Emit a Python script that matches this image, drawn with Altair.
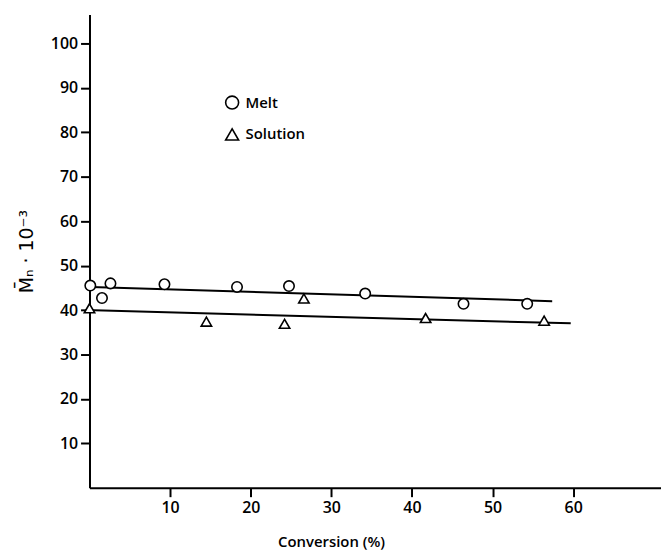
import altair as alt
import pandas as pd

# Data
melt_x = [0.1, 1.55, 2.6, 9.3, 18.3, 24.75, 34.2, 46.4, 54.3]
melt_y = [45.5, 42.7, 46.0, 45.8, 45.2, 45.4, 43.7, 41.4, 41.4]
sol_x = [0.0, 14.5, 24.2, 26.6, 41.7, 56.4]
sol_y = [40.4, 37.4, 36.9, 42.6, 38.2, 37.6]
melt_fit_x = [0.2, 57.4]
melt_fit_y = [45.2, 42.0]
sol_fit_x = [-0.5, 59.7]
sol_fit_y = [40.0, 37.0]
series = ["Melt", "Solution"]
x_ticks = [10, 20, 30, 40, 50, 60]
y_ticks = [10, 20, 30, 40, 50, 60, 70, 80, 90, 100]

pts = pd.DataFrame({
    "x": melt_x + sol_x,
    "y": melt_y + sol_y,
    "s": [series[0]] * len(melt_x) + [series[1]] * len(sol_x),
})
fits = pd.DataFrame({
    "x": melt_fit_x + sol_fit_x,
    "y": melt_fit_y + sol_fit_y,
    "s": [series[0]] * 2 + [series[1]] * 2,
})

FONT = "Open Sans"
WEIGHT = 600

xenc = alt.X("x:Q",
             scale=alt.Scale(domain=[0, 70.9], nice=False, zero=False),
             axis=alt.Axis(values=x_ticks, title="Conversion (%)", grid=False,
                           domainColor="black", domainWidth=2, tickColor="black",
                           tickWidth=2, tickSize=9, labelFontSize=16, labelPadding=3,
                           labelColor="black", labelFont=FONT, labelFontWeight=WEIGHT,
                           titleFont=FONT, titleFontSize=15, titleFontWeight=WEIGHT,
                           titleColor="black", titleX=243, titleY=54,
                           titleBaseline="middle"))
yenc = alt.Y("y:Q",
             scale=alt.Scale(domain=[0, 106.5], nice=False, zero=False),
             axis=alt.Axis(values=y_ticks, title="M\u0304\u2099 \u00b7 10\u207b\u00b3", grid=False,
                           domainColor="black", domainWidth=2, tickColor="black",
                           tickWidth=2, tickSize=9, labelFontSize=16, labelPadding=3,
                           labelColor="black", labelFont=FONT, labelFontWeight=WEIGHT,
                           titleFont="DejaVu Sans", titleFontSize=19, titleFontWeight="normal",
                           titleColor="black", titlePadding=14))

lines = alt.Chart(fits).mark_line(color="black", strokeWidth=2, clip=False).encode(
    x=xenc, y=yenc, detail="s:N")

leg = alt.Legend(title=None, orient="none", legendX=136, legendY=81,
                 padding=0, rowPadding=12, labelOffset=6,
                 labelFont=FONT, labelFontSize=15, labelColor="black",
                 labelFontWeight=WEIGHT,
                 symbolFillColor="white", symbolStrokeWidth=1.6, symbolSize=170)

points = alt.Chart(pts).mark_point(filled=False, fill="white",
                                   fillOpacity=1, strokeWidth=1.6, size=110,
                                   opacity=1).encode(
    x=xenc, y=yenc,
    shape=alt.Shape("s:N", scale=alt.Scale(domain=series, range=["circle", "triangle-up"]),
                    legend=leg),
    stroke=alt.Stroke("s:N", scale=alt.Scale(domain=series, range=["black", "black"]),
                      legend=leg),
)

chart = (lines + points).properties(
    width=575, height=476,
    autosize=alt.AutoSizeParams(type="none"),
    padding={"left": 82, "top": 5, "right": 0, "bottom": 62},
    background="white",
).configure_view(stroke=None)

chart.save("out.html", embed_options={"renderer": "svg", "actions": False})
